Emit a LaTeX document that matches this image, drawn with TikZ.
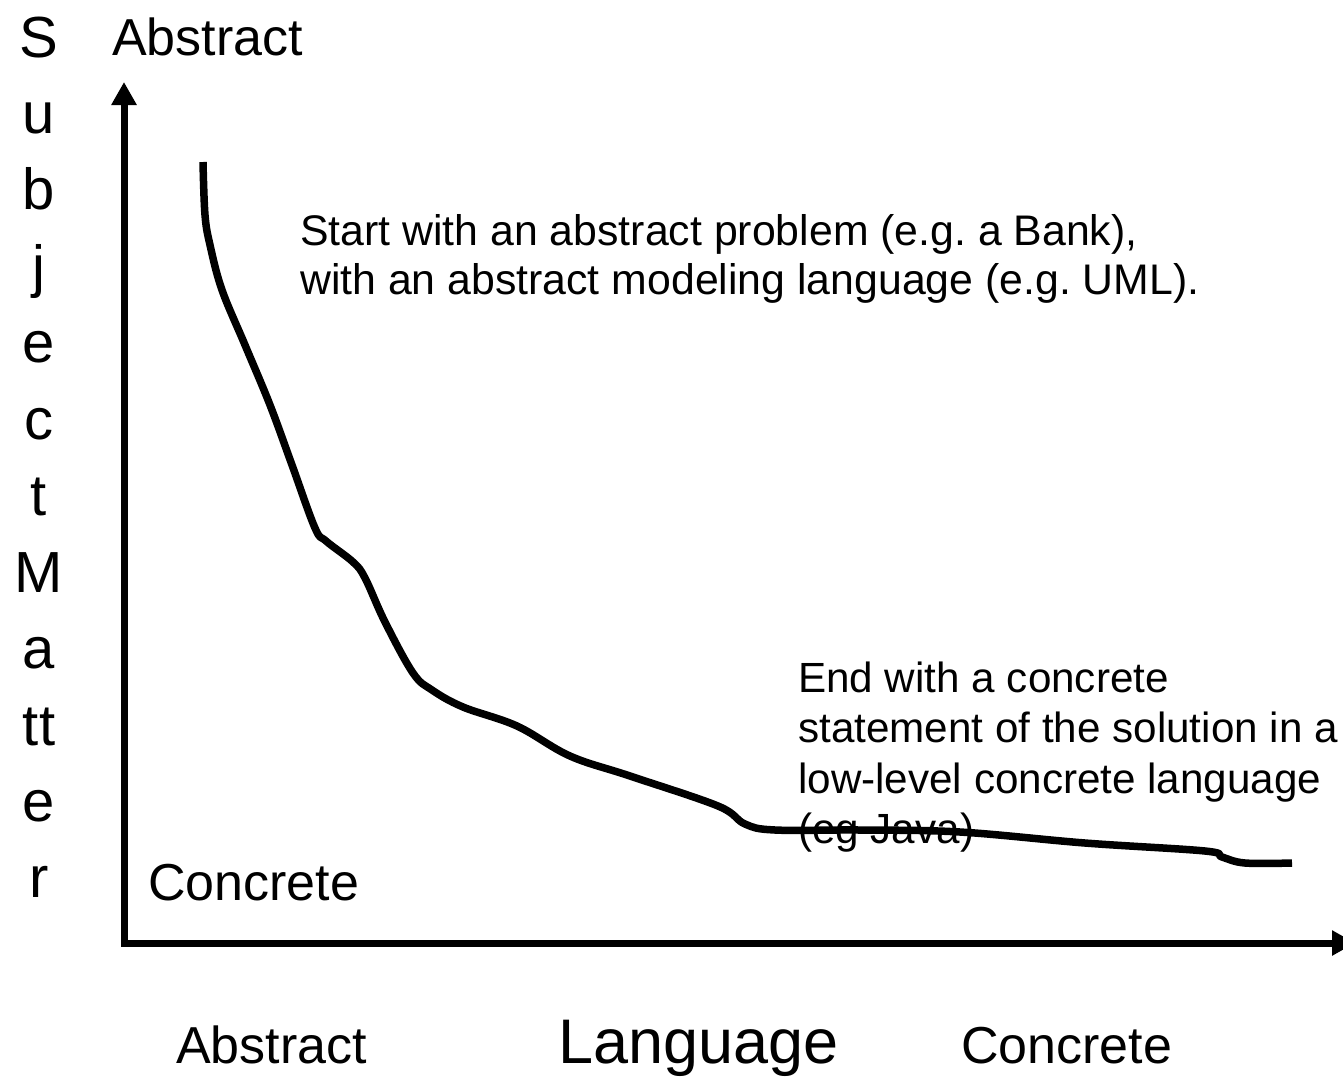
\documentclass[tikz,border=0pt]{standalone}
\usepackage{fontspec}
\setmainfont{Liberation Sans}
\usetikzlibrary{arrows.meta}
\frenchspacing
\begin{document}
\begin{tikzpicture}[x=1pt,y=-1pt,
  axis/.style={line width=7pt,{Triangle[length=23pt,width=24pt]}-{Triangle[length=23pt,width=24pt]}},
  trend/.style={line width=7.5pt,line join=round,line cap=butt},
  lbl/.style={inner sep=0pt,anchor=base west,font=\fontsize{52}{60}\selectfont},
  big/.style={inner sep=0pt,anchor=base west,font=\fontsize{63}{72}\selectfont},
  note/.style={inner sep=0pt,anchor=base west,font=\fontsize{42.8}{50}\selectfont},
  endnote/.style={note,font=\fontsize{42.2}{50}\selectfont},
  vert/.style={inner sep=0pt,anchor=base,font=\fontsize{58}{70}\selectfont}]
\useasboundingbox (0,0) rectangle (1343,1077);

% axes
\coordinate (ytop) at (124,82);
\coordinate (o) at (124,943);
\coordinate (xend) at (1355,943);
\draw[axis] (ytop) -- (o) -- (xend);

% vertical axis title, one letter group per line
\foreach \ch [count=\i] in {S,u,b,j,e,c,t,M,a,tt,e,r}
  \node[vert] (v\i) at (39,{57+76.45*(\i-1)}) {\ch};

% axis end labels
\node[lbl] (yhi) at (112,55) {Abstract};
\node[lbl] (ylo) at (148,900) {Concrete};
\node[lbl] (xlo) at (176,1063) {Abstract};
\node[big] (xname) at (558,1063) {Language};
\node[lbl] (xhi) at (961,1063) {Concrete};

% annotations
\node[note] (s1) at (300,245) {Start with an abstract problem (e.g. a Bank),};
\node[note] (s2) at (300,294) {with an abstract modeling language (e.g. UML).};
\node[endnote] (e1) at (798,692) {End with a concrete};
\node[endnote] (e2) at (798,742) {statement of the solution in a};
\node[endnote] (e3) at (798,793) {low-level concrete language};
\node[endnote] (e4) at (798,843) {(eg Java)};

% the descent from abstract to concrete
\draw[trend] plot[smooth,tension=0.6] coordinates {
  (203,162) (205,215) (210,245) (222,290) (245,345) (270,405) (292,465)
  (315,528) (326,541) (353,562) (365,578) (385,622) (413,673) (432,690)
  (463,707) (517,726) (570,756) (630,776) (718,806) (745,824) (775,830)
  (860,830) (960,832) (1085,843) (1205,851) (1222,857) (1245,863) (1292,863)};
\end{tikzpicture}
\end{document}
